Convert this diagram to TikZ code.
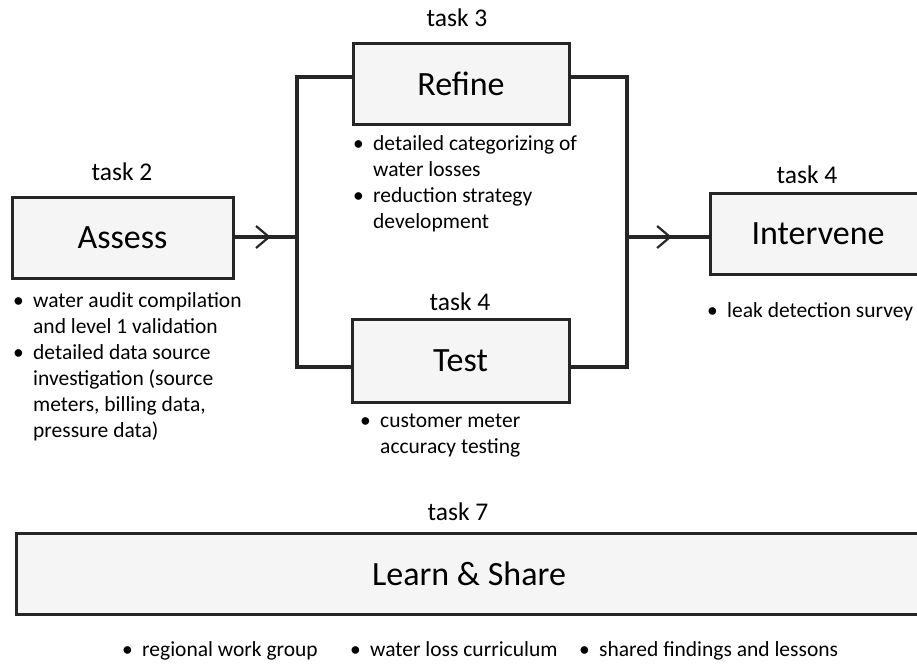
\documentclass[tikz,border=0pt]{standalone}
\usepackage{fontspec}
\setmainfont{Carlito}
\usetikzlibrary{arrows.meta,decorations.markings}

\newcommand{\itembul}{\makebox[20pt][l]{\textbullet}}
\newcommand{\itemind}{\hspace*{20pt}}

\begin{document}
\begin{tikzpicture}[x=1pt, y=-1pt,
        task/.style={rectangle, draw=black!85, fill=black!4, line width=3pt, minimum height=81pt, font=\fontsize{34}{40}\selectfont},
        tasklabel/.style={font=\fontsize{25.5}{30}\selectfont},
        notes/.style={anchor=base west, inner sep=0pt, align=left, font=\fontsize{21.5}{26}\selectfont},
        link/.style={line width=3.2pt, draw=black!85},
        midarrow/.style={postaction={decorate}, decoration={markings, mark=at position #1 with {\arrow{Straight Barb[length=13pt, width=22pt, line width=2.2pt]}}}},]

        \clip (0,0) rectangle (917,665);

        % Tasks
        \node[task, minimum width=221pt] (assess) at (122.5,237.5) {Assess};
        \node[task, minimum width=216pt] (refine) at (461,83.5) {Refine};
        \node[task, minimum width=217pt, minimum height=83pt] (test) at (460.5,360.5) {Test};
        \node[task, minimum width=216pt] (intervene) at (818,233.5) {Intervene};
        \node[task, minimum width=906pt] (learn) at (469,573.5) {Learn \& Share};

        % Task numbers
        \node[tasklabel] (t2) at (122,172) {task 2};
        \node[tasklabel] (t3) at (457,18)  {task 3};
        \node[tasklabel] (t4a) at (460,302) {task 4};
        \node[tasklabel] (t4b) at (807,175) {task 4};
        \node[tasklabel] (t7) at (458,512) {task 7};

        % Bus corners
        \coordinate (lt) at (297,77);
        \coordinate (lm) at (297,237);
        \coordinate (lb) at (297,367);
        \coordinate (rt) at (627,77);
        \coordinate (rm) at (627,237);
        \coordinate (rb) at (627,367);

        % Links
        \draw[link, midarrow=0.58] (assess.east |- lm) -- (lm);
        \draw[link] (refine.west |- lt) -- (lt) -- (lb) -- (test.west |- lb);
        \draw[link] (refine.east |- rt) -- (rt) -- (rb) -- (test.east |- rb);
        \draw[link, midarrow=0.55] (rm) -- (intervene.west |- rm);

        % Notes (anchored on the baseline of the last line)
        \node[notes] (assessnotes) at (13,437) {\itembul water audit compilation\\ \itemind and level 1 validation\\ \itembul detailed data source\\ \itemind investigation (source\\ \itemind meters, billing data,\\ \itemind pressure data)};
        \node[notes] (refinenotes) at (353,228) {\itembul detailed categorizing of\\ \itemind water losses\\ \itembul reduction strategy\\ \itemind development};
        \node[notes] (testnotes) at (360,453) {\itembul customer meter\\ \itemind accuracy testing};
        \node[notes] (intervenenotes) at (707,317) {\itembul leak detection survey};
        \node[notes] (learn1) at (122,656) {\itembul regional work group};
        \node[notes] (learn2) at (350,656) {\itembul water loss curriculum};
        \node[notes] (learn3) at (579,656) {\itembul shared findings and lessons};
    \end{tikzpicture}
\end{document}
